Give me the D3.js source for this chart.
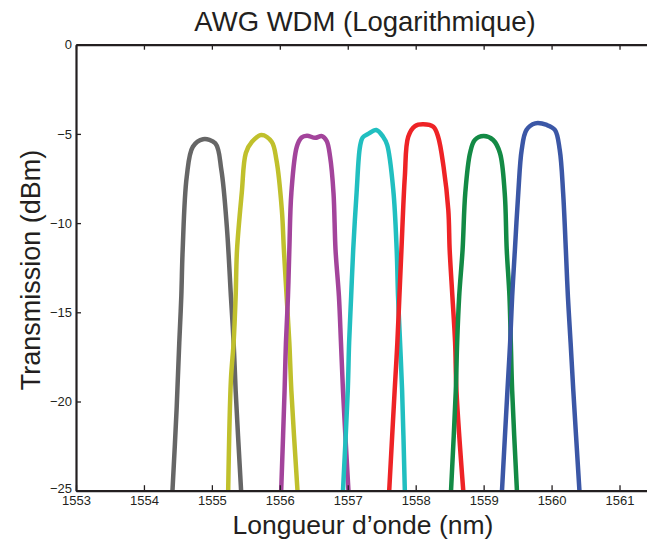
<!DOCTYPE html>
<html>
<head>
<meta charset="utf-8">
<script src="https://cdn.jsdelivr.net/npm/d3@7"></script>
<style>
  html, body { margin: 0; padding: 0; background: #fff; }
  svg { display: block; font-family: "Liberation Sans", Arial, Helvetica, sans-serif; }
</style>
</head>
<body>
<svg id="chart" width="647" height="547"></svg>
<script>
// ---- data (wavelength nm, transmission dBm) ----
const title = "AWG WDM (Logarithmique)";
const xLabel = "Longueur d\u2019onde (nm)";
const yLabel = "Transmission (dBm)";
const xTicks = [1553, 1554, 1555, 1556, 1557, 1558, 1559, 1560, 1561];
const yTicks = [0, -5, -10, -15, -20, -25];
const channelColors = ["#666666", "#c0c02c", "#a3449b", "#21bfc0", "#ee2326", "#138a45", "#3b57a6"];

const ch1 = [[1554.42,-25],[1554.48,-20.5],[1554.52,-16.7],[1554.55,-14.1],[1554.57,-11.5],[1554.63,-7.4],[1554.72,-5.72],[1554.87,-5.30],[1555.05,-5.53],[1555.14,-7.03],[1555.22,-10.2],[1555.28,-14.1],[1555.32,-16.7],[1555.35,-19.4],[1555.43,-25]];
const ch2 = [[1555.24,-25],[1555.28,-18.8],[1555.32,-16.7],[1555.35,-14.1],[1555.37,-11.5],[1555.44,-8.3],[1555.50,-6.07],[1555.59,-5.44],[1555.73,-5.06],[1555.88,-5.44],[1555.95,-6.46],[1556.03,-9.27],[1556.06,-11.5],[1556.10,-14.1],[1556.14,-16.7],[1556.17,-19.4],[1556.26,-25]];
const ch3 = [[1556.02,-25],[1556.07,-19.4],[1556.09,-16.7],[1556.12,-14.1],[1556.14,-11.5],[1556.17,-8.3],[1556.25,-5.72],[1556.32,-5.2],[1556.40,-5.1],[1556.52,-5.22],[1556.62,-5.12],[1556.69,-5.4],[1556.74,-6.28],[1556.79,-8.3],[1556.82,-11.5],[1556.87,-14.1],[1556.90,-16.7],[1556.93,-19.4],[1557.01,-25]];
const ch4 = [[1556.93,-25],[1557.00,-19.4],[1557.02,-16.7],[1557.05,-14.1],[1557.08,-11.5],[1557.13,-8.3],[1557.18,-5.72],[1557.22,-5.2],[1557.30,-5.0],[1557.42,-4.78],[1557.52,-5.16],[1557.58,-5.62],[1557.67,-8.14],[1557.72,-11.5],[1557.74,-14.1],[1557.77,-16.7],[1557.80,-19.4],[1557.84,-25]];
const ch5 = [[1557.61,-25],[1557.69,-19.4],[1557.73,-16.7],[1557.76,-14.1],[1557.79,-11.5],[1557.84,-7.4],[1557.89,-5.16],[1557.99,-4.56],[1558.11,-4.46],[1558.26,-4.60],[1558.33,-5.16],[1558.41,-6.84],[1558.48,-9.27],[1558.50,-11.5],[1558.54,-14.1],[1558.58,-16.7],[1558.60,-19.4],[1558.70,-25]];
const ch6 = [[1558.52,-25],[1558.59,-19.4],[1558.61,-16.7],[1558.64,-14.1],[1558.69,-11.5],[1558.73,-8.3],[1558.80,-6.07],[1558.87,-5.34],[1559.00,-5.12],[1559.14,-5.34],[1559.24,-6.07],[1559.31,-8.3],[1559.34,-11.5],[1559.38,-14.1],[1559.40,-16.7],[1559.42,-19.4],[1559.49,-25]];
const ch7 = [[1559.27,-25],[1559.35,-19.4],[1559.39,-16.7],[1559.42,-14.1],[1559.46,-11.5],[1559.51,-8.3],[1559.56,-5.9],[1559.63,-4.78],[1559.76,-4.41],[1559.93,-4.50],[1560.05,-4.78],[1560.12,-5.9],[1560.17,-8.3],[1560.21,-11.5],[1560.24,-14.1],[1560.28,-16.7],[1560.32,-19.4],[1560.41,-25]];
const channels = [ch1, ch2, ch3, ch4, ch5, ch6, ch7];

// ---- layout ----
const svg = d3.select("#chart");
const mLeft = 76, mTop = 44.7, mBottom = 490.7, unit = 67.94;
const x = d3.scaleLinear().domain([1553, 1562]).range([mLeft, mLeft + 9 * unit]);
const y = d3.scaleLinear().domain([-25, 0]).range([mBottom, mTop]);
const axisColor = "#231f20";

// curves
const line = d3.line()
  .x(d => x(d[0]))
  .y(d => y(d[1]))
  .curve(d3.curveCatmullRom.alpha(0.5));

svg.append("g").selectAll("path")
  .data(channels)
  .join("path")
  .attr("d", line)
  .attr("fill", "none")
  .attr("stroke", (d, i) => channelColors[i])
  .attr("stroke-width", 4.5)
  .attr("stroke-linejoin", "round")
  .attr("stroke-linecap", "butt");

// axes
function styleAxis(g) {
  g.select(".domain").attr("stroke", axisColor).attr("stroke-width", 2.2);
  g.selectAll(".tick line").attr("stroke", axisColor).attr("stroke-width", 1.3);
  g.selectAll(".tick text").attr("fill", axisColor)
    .attr("font-size", 13).attr("font-family", "Liberation Sans, Arial, sans-serif");
}

const xAxis = svg.append("g")
  .attr("transform", `translate(0,${mBottom})`)
  .call(d3.axisBottom(x).tickValues(xTicks).tickFormat(d3.format("d"))
    .tickSizeInner(-5.5).tickSizeOuter(0).tickPadding(5.5));
styleAxis(xAxis);

const xTop = svg.append("g")
  .attr("transform", `translate(0,${mTop})`)
  .call(d3.axisTop(x).tickValues(xTicks).tickFormat("")
    .tickSizeInner(-5).tickSizeOuter(0));
styleAxis(xTop);

const yAxis = svg.append("g")
  .attr("transform", `translate(${mLeft},0)`)
  .call(d3.axisLeft(y).tickValues(yTicks).tickFormat(d3.format("d"))
    .tickSizeInner(-5).tickSizeOuter(0).tickPadding(4));
styleAxis(yAxis);
// lowest y label sits just above the first x label
yAxis.selectAll(".tick text").filter(d => d === -25).attr("dy", "0.1em");

// texts
svg.append("text")
  .attr("x", 365).attr("y", 31)
  .attr("text-anchor", "middle")
  .attr("font-size", 27.5)
  .attr("fill", axisColor)
  .text(title);

svg.append("text")
  .attr("x", 363).attr("y", 533.5)
  .attr("text-anchor", "middle")
  .attr("font-size", 26.5)
  .attr("fill", axisColor)
  .text(xLabel);

svg.append("text")
  .attr("transform", "translate(40,270) rotate(-90)")
  .attr("text-anchor", "middle")
  .attr("font-size", 27)
  .attr("fill", axisColor)
  .text(yLabel);
</script>
</body>
</html>
